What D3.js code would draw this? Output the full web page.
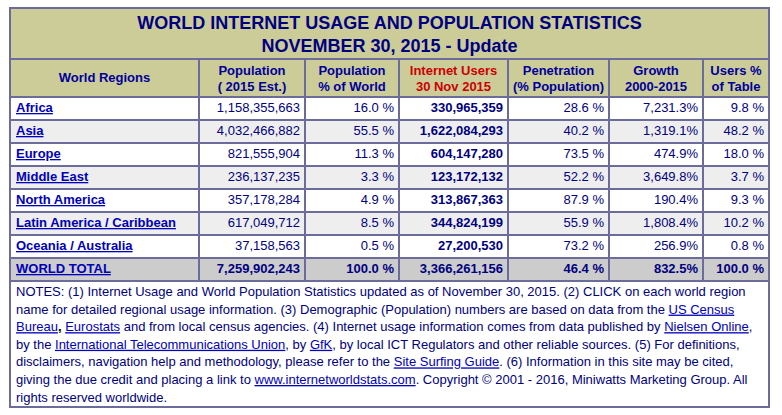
<!DOCTYPE html>
<html><head><meta charset="utf-8">
<script src="https://cdn.jsdelivr.net/npm/d3@7"></script>
<style>
html,body{margin:0;padding:0;background:#fff;}
svg text{font-family:"Liberation Sans",Arial,Helvetica,sans-serif;white-space:pre;}
</style></head>
<body><svg id="c" width="782" height="415"></svg>
<script>
const titleLines = ["WORLD INTERNET USAGE AND POPULATION STATISTICS", "NOVEMBER 30, 2015 - Update"];
const headers = [["World Regions"], ["Population", "( 2015 Est.)"], ["Population", "% of World"], ["Internet Users", "30 Nov 2015"], ["Penetration", "(% Population)"], ["Growth", "2000-2015"], ["Users %", "of Table"]];
const regions = ["Africa", "Asia", "Europe", "Middle East", "North America", "Latin America / Caribbean", "Oceania / Australia", "WORLD TOTAL"];
const population = [1158355663, 4032466882, 821555904, 236137235, 357178284, 617049712, 37158563, 7259902243];
const popPct = [16.0, 55.5, 11.3, 3.3, 4.9, 8.5, 0.5, 100.0];
const users = [330965359, 1622084293, 604147280, 123172132, 313867363, 344824199, 27200530, 3366261156];
const penetration = [28.6, 40.2, 73.5, 52.2, 87.9, 55.9, 73.2, 46.4];
const growth = [7231.3, 1319.1, 474.9, 3649.8, 190.4, 1808.4, 256.9, 832.5];
const usersPct = [9.8, 48.2, 18.0, 3.7, 9.3, 10.2, 0.8, 100.0];
const notes = [
  [{t: "NOTES: (1) Internet Usage and World Population Statistics updated as of November 30, 2015. (2) CLICK on each world region"}],
  [{t: "name for detailed regional usage information. (3) Demographic (Population) numbers are based on data from the "}, {t: "US Census", link: true}],
  [{t: "Bureau", link: true}, {t: ",", bold: true}, {t: " "}, {t: "Eurostats", link: true}, {t: " and from local census agencies. (4) Internet usage information comes from data published by "}, {t: "Nielsen Online", link: true}, {t: ","}],
  [{t: "by the "}, {t: "International Telecommunications Union", link: true}, {t: ", by "}, {t: "GfK", link: true}, {t: ", by local ICT Regulators and other reliable sources. (5) For definitions,"}],
  [{t: "disclaimers, navigation help and methodology, please refer to the "}, {t: "Site Surfing Guide", link: true}, {t: ". (6) Information in this site may be cited,"}],
  [{t: "giving the due credit and placing a link to "}, {t: "www.internetworldstats.com", link: true}, {t: ". Copyright \u00a9 2001 - 2016, Miniwatts Marketing Group. All"}],
  [{t: "rights reserved worldwide."}]
];

// layout
const colEdges = [10, 199, 305, 399, 508, 609, 703, 769];
const T = {top: 8, titleBottom: 59, headBottom: 97, rowsBottom: 281, bottom: 407};
const C = {bg: "#cccc99", border: "#6b6b9c", title: "#000080", head: "#000099", red: "#cc0000",
  text: "#000080", link: "#0000bb", alt: "#eeeeee", total: "#cccccc"};

const svg = d3.select("#c");
svg.append("rect").attr("width", 782).attr("height", 415).attr("fill", "#fff");

const y = d3.scaleBand().domain(regions).range([T.headBottom, T.rowsBottom]);
const col = d3.scaleOrdinal().domain(d3.range(7)).range(colEdges.slice(0, 7));
const colW = i => colEdges[i + 1] - colEdges[i];

// backgrounds
svg.append("rect").attr("x", colEdges[0]).attr("y", T.top).attr("width", colEdges[7] - colEdges[0])
  .attr("height", T.headBottom - T.top).attr("fill", C.bg);
svg.selectAll("rect.row").data(regions).join("rect").attr("class", "row")
  .attr("x", colEdges[0]).attr("y", d => y(d)).attr("width", colEdges[7] - colEdges[0])
  .attr("height", y.bandwidth())
  .attr("fill", (d, i) => i === regions.length - 1 ? C.total : (i % 2 ? C.alt : "#fff"));

// title
svg.selectAll("text.title").data(titleLines).join("text").attr("class", "title")
  .attr("x", (colEdges[0] + colEdges[7]) / 2).attr("y", (d, i) => 28.5 + i * 23)
  .attr("text-anchor", "middle").attr("font-size", 18).attr("font-weight", "bold")
  .attr("fill", C.title).text(d => d);

// headers
headers.forEach((h, i) => {
  const t = svg.append("text").attr("x", col(i) + colW(i) / 2).attr("text-anchor", "middle")
    .attr("font-size", 13).attr("font-weight", "bold").attr("fill", i === 3 ? C.red : C.head);
  if (h.length === 1) t.attr("y", 82).text(h[0]);
  else h.forEach((s, k) => t.append("tspan").attr("x", col(i) + colW(i) / 2).attr("y", 75 + k * 16).text(s));
});

// data cells
const fInt = d3.format(",");
const fPct = v => d3.format(".1f")(v) + " %";
const fGrowth = v => d3.format(",.1f")(v) + "%";
const columns = [
  {v: population, f: fInt, bold: false},
  {v: popPct, f: fPct, bold: false},
  {v: users, f: fInt, bold: true},
  {v: penetration, f: fPct, bold: false},
  {v: growth, f: fGrowth, bold: false},
  {v: usersPct, f: fPct, bold: false}
];
const last = regions.length - 1;
svg.selectAll("text.region").data(regions).join("text").attr("class", "region")
  .attr("x", colEdges[0] + 6).attr("y", d => y(d) + 15).attr("font-size", 13)
  .attr("font-weight", "bold").attr("fill", C.link).attr("text-decoration", "underline").text(d => d);
columns.forEach((c, j) => {
  const ci = j + 1;
  svg.selectAll("text.c" + ci).data(c.v).join("text").attr("class", "c" + ci)
    .attr("x", col(ci) + colW(ci) - 5).attr("y", (d, i) => y(regions[i]) + 15)
    .attr("text-anchor", "end").attr("font-size", 13)
    .attr("font-weight", (d, i) => (c.bold || i === last) ? "bold" : "normal")
    .attr("fill", C.text).text(d => c.f(d));
});

// grid lines
const g = svg.append("g").attr("stroke", C.border).attr("stroke-width", 2).attr("fill", "none");
const hLines = [T.titleBottom, T.headBottom, ...regions.slice(1).map(r => y(r)), T.rowsBottom];
g.selectAll("line.h").data(hLines).join("line").attr("class", "h")
  .attr("x1", colEdges[0]).attr("x2", colEdges[7]).attr("y1", d => d).attr("y2", d => d);
g.selectAll("line.v").data(colEdges.slice(1, 7)).join("line").attr("class", "v")
  .attr("x1", d => d).attr("x2", d => d).attr("y1", T.titleBottom).attr("y2", T.rowsBottom);
g.append("rect").attr("x", colEdges[0]).attr("y", T.top).attr("width", colEdges[7] - colEdges[0])
  .attr("height", T.bottom - T.top);

// notes
const nl = svg.selectAll("text.note").data(notes).join("text").attr("class", "note")
  .attr("x", colEdges[0] + 6).attr("y", (d, i) => 296 + i * 17.6).attr("font-size", 13).attr("fill", C.text);
nl.selectAll("tspan").data(d => d).join("tspan").text(d => d.t)
  .attr("fill", d => d.link ? C.link : (d.bold ? "#000" : C.text))
  .attr("font-weight", d => d.bold ? "bold" : null)
  .attr("text-decoration", d => d.link ? "underline" : null);
</script></body></html>
